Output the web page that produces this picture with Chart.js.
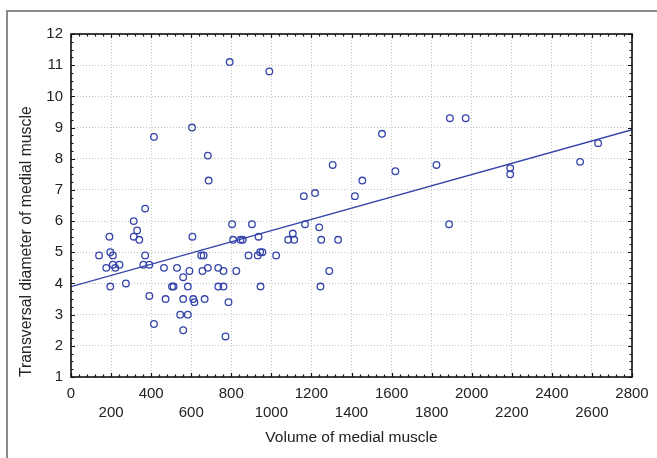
<!DOCTYPE html>
<html>
<head>
<meta charset="utf-8">
<script src="https://cdn.jsdelivr.net/npm/chart.js@4/dist/chart.umd.min.js"></script>
<style>
  body { margin: 0; background: #fff; }
  #wrap { position: relative; width: 657px; height: 458px; }
  #frame { position: absolute; left: 6px; top: 10px; right: 0; bottom: 0;
           border-left: 2px solid #8a8a8a; border-top: 2px solid #8a8a8a; }
  canvas { position: absolute; left: 0; top: 0; }
</style>
</head>
<body>
<div id="wrap">
  <div id="frame"></div>
  <canvas id="myChart" width="657" height="458"></canvas>
</div>
<script>
// measured points: volume of medial muscle vs transversal diameter
let volume = [
    140, 176, 192, 196, 209, 209, 221, 242, 196, 274,
    313, 313, 330, 341, 370, 370, 361, 391, 391, 414,
    414, 464, 472, 504, 512, 529, 545, 560, 560, 560,
    583, 583, 591, 604, 606, 610, 616, 650, 662, 656,
    667, 683, 687, 683, 735, 735, 761, 761, 771, 786,
    792, 804, 809, 825, 846, 857, 886, 903, 932, 936,
    944, 955, 946, 990, 1024, 1084, 1107, 1114, 1162, 1168,
    1218, 1239, 1249, 1245, 1289, 1306, 1333, 1417, 1454, 1552,
    1619, 1824, 1891, 1887, 1970, 2192, 2192, 2541, 2631
];
let diameter = [
    4.9, 4.5, 5.5, 5.0, 4.9, 4.6, 4.5, 4.6, 3.9, 4.0,
    6.0, 5.5, 5.7, 5.4, 6.4, 4.9, 4.6, 4.6, 3.6, 8.7,
    2.7, 4.5, 3.5, 3.9, 3.9, 4.5, 3.0, 3.5, 4.2, 2.5,
    3.0, 3.9, 4.4, 9.0, 5.5, 3.5, 3.4, 4.9, 4.9, 4.4,
    3.5, 8.1, 7.3, 4.5, 4.5, 3.9, 4.4, 3.9, 2.3, 3.4,
    11.1, 5.9, 5.4, 4.4, 5.4, 5.4, 4.9, 5.9, 4.9, 5.5,
    5.0, 5.0, 3.9, 10.8, 4.9, 5.4, 5.6, 5.4, 6.8, 5.9,
    6.9, 5.8, 5.4, 3.9, 4.4, 7.8, 5.4, 6.8, 7.3, 8.8,
    7.6, 7.8, 9.3, 5.9, 9.3, 7.7, 7.5, 7.9, 8.5
];
// fitted line as drawn
let lineX = [0, 2800];
let lineY = [3.9, 8.93];

let xTicks = [0, 200, 400, 600, 800, 1000, 1200, 1400, 1600, 1800, 2000, 2200, 2400, 2600, 2800];
let yTicks = [1, 2, 3, 4, 5, 6, 7, 8, 9, 10, 11, 12];

let blue = 'rgb(52,68,170)';
let font = "'Liberation Sans', Arial, sans-serif";

let points = volume.map(function (v, i) { return {x: v, y: diameter[i]}; });
let line = lineX.map(function (v, i) { return {x: v, y: lineY[i]}; });

// box round the plot with small inward tick marks on all four sides
const boxPlugin = {
    id: 'box',
    afterDraw: function (chart) {
        let a = chart.chartArea;
        let xs = chart.scales.x;
        let ys = chart.scales.y;
        let ctx = chart.ctx;
        ctx.save();
        ctx.strokeStyle = '#111';
        ctx.lineWidth = 1.2;
        ctx.beginPath();
        for (let v = xs.min; v <= xs.max; v += 40) {
            let px = Math.round(xs.getPixelForValue(v)) + 0.5;
            let len = (v % 200 === 0) ? 4 : 2.5;
            ctx.moveTo(px, a.bottom); ctx.lineTo(px, a.bottom - len);
            ctx.moveTo(px, a.top); ctx.lineTo(px, a.top + len);
        }
        for (let v = ys.min; v <= ys.max + 0.001; v += 0.25) {
            let py = Math.round(ys.getPixelForValue(v)) + 0.5;
            let len = (Math.abs(v - Math.round(v)) < 0.001) ? 4 : 2.5;
            ctx.moveTo(a.left, py); ctx.lineTo(a.left + len, py);
            ctx.moveTo(a.right, py); ctx.lineTo(a.right - len, py);
        }
        ctx.stroke();
        ctx.lineWidth = 1.6;
        ctx.strokeRect(a.left, a.top, a.right - a.left, a.bottom - a.top);
        ctx.restore();
    }
};

const config = {
    type: 'scatter',
    data: {
        datasets: [
            {
                data: points,
                showLine: false,
                pointStyle: 'circle',
                pointRadius: 3.3,
                pointBorderWidth: 1.3,
                pointBorderColor: blue,
                pointBackgroundColor: 'rgba(0,0,0,0)',
                order: 2
            },
            {
                data: line,
                showLine: true,
                borderColor: blue,
                borderWidth: 1.3,
                pointRadius: 0,
                order: 1
            }
        ]
    },
    options: {
        responsive: false,
        animation: false,
        layout: { padding: { left: 0, top: 34, right: 25, bottom: 0 } },
        plugins: { legend: { display: false }, tooltip: { enabled: false } },
        scales: {
            x: {
                type: 'linear',
                min: 0,
                max: 2800,
                afterBuildTicks: function (s) { s.ticks = xTicks.map(function (v) { return {value: v}; }); },
                afterFit: function (s) { s.height = 81; },
                ticks: {
                    autoSkip: false,
                    maxRotation: 0,
                    padding: 7,
                    color: '#222',
                    font: { family: font, size: 15, lineHeight: 1.27 },
                    callback: function (v) { return (v % 400 === 0) ? [String(v), ''] : ['', String(v)]; }
                },
                grid: {
                    color: '#c4c4c4',
                    drawTicks: false
                },
                border: { display: false, dash: [1, 2] },
                title: {
                    display: true,
                    text: 'Volume of medial muscle',
                    color: '#222',
                    font: { family: font, size: 15.5 },
                    padding: { top: 2, bottom: 11 }
                }
            },
            y: {
                type: 'linear',
                min: 1,
                max: 12,
                afterBuildTicks: function (s) { s.ticks = yTicks.map(function (v) { return {value: v}; }); },
                afterFit: function (s) { s.width = 71; },
                ticks: {
                    padding: 8,
                    color: '#222',
                    font: { family: font, size: 15 }
                },
                grid: {
                    color: '#c4c4c4',
                    drawTicks: false
                },
                border: { display: false, dash: [1, 2] },
                title: {
                    display: true,
                    text: 'Transversal diameter of medial muscle',
                    align: 'start',
                    color: '#222',
                    font: { family: font, size: 15.8 },
                    padding: { top: 17, bottom: 0 }
                }
            }
        }
    },
    plugins: [boxPlugin]
};

const myChart = new Chart(document.getElementById('myChart'), config);
</script>
</body>
</html>
